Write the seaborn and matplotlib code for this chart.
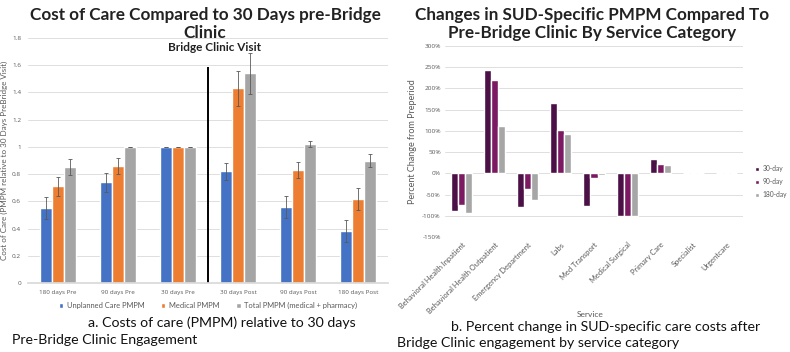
import numpy as np
import pandas as pd
import matplotlib
matplotlib.use("Agg")
import matplotlib.pyplot as plt
import seaborn as sns
from matplotlib.ticker import FuncFormatter

sns.set_theme(style="white")
plt.rcParams['font.family'] = ['Lato', 'DejaVu Sans']

# ---------------- data: left chart ----------------
periods = ["180 days Pre", "90 days Pre", "30 days Pre", "30 days Post", "90 days Post", "180 days Post"]
series_a = ["Unplanned Care PMPM", "Medical PMPM", "Total PMPM (medical + pharmacy)"]
unplanned = [0.55, 0.74, 1.00, 0.82, 0.56, 0.38]
medical = [0.71, 0.86, 1.00, 1.43, 0.83, 0.62]
total = [0.85, 1.00, 1.00, 1.54, 1.02, 0.90]
unplanned_err = [0.08, 0.07, 0.0, 0.06, 0.08, 0.08]
medical_err = [0.07, 0.06, 0.0, 0.13, 0.06, 0.08]
total_err = [0.06, 0.0, 0.0, 0.15, 0.02, 0.05]
a_ticks = [0, 0.2, 0.4, 0.6, 0.8, 1, 1.2, 1.4, 1.6, 1.8]

# ---------------- data: right chart ----------------
services = ["Behavioral Health Inpatient", "Behavioral Health Outpatient", "Emergency Department",
            "Labs", "Med Transport", "Medical Surgical", "Primary Care", "Specialist", "Urgentcare"]
series_b = ["30-day", "90-day", "180-day"]
d30 = [-88, 244, -80, 165, -77, -101, 34, 0, 0]
d90 = [-75, 220, -38, 103, -11, -101, 23, 0, 0]
d180 = [-94, 111, -63, 93, -4, -101, 19, 0, 0]
b_ticks = [-150, -100, -50, 0, 50, 100, 150, 200, 250, 300]

colors_a = ["#4472C4", "#ED7D31", "#A5A5A5"]
colors_b = ["#4B1046", "#7B1A63", "#A6A6A6"]

df_a = pd.DataFrame({
    "period": periods * 3,
    "series": sum([[s] * len(periods) for s in series_a], []),
    "value": unplanned + medical + total,
})
df_b = pd.DataFrame({
    "service": services * 3,
    "series": sum([[s] * len(services) for s in series_b], []),
    "value": d30 + d90 + d180,
})

W, H = 790, 352
fig = plt.figure(figsize=(W / 100, H / 100), dpi=100)
fig.patch.set_facecolor("white")

def box(x0, y0, x1, y1):
    return [x0 / W, 1 - y1 / H, (x1 - x0) / W, (y1 - y0) / H]

grid_c = "#D9D9D9"
tick_c = "#595959"
small_font = ["Open Sans", "DejaVu Sans"]

# ---------------- left chart ----------------
ax1 = fig.add_axes(box(28, 38, 388, 283))
sns.barplot(data=df_a, x="period", y="value", hue="series", order=periods, hue_order=series_a,
            palette=colors_a, width=0.6, saturation=1, errorbar=None, ax=ax1, legend=True)
errs = [unplanned_err, medical_err, total_err]
for cont, err in zip(ax1.containers, errs):
    xs = [p.get_x() + p.get_width() / 2 for p in cont.patches]
    ys = [p.get_height() for p in cont.patches]
    ax1.errorbar(xs, ys, yerr=err, fmt="none", ecolor="#595959", elinewidth=0.6, capsize=1.5, capthick=0.6)
ax1.set_ylim(0, 1.8)
ax1.set_yticks(a_ticks)
ax1.yaxis.set_major_formatter(FuncFormatter(lambda v, p: ("%g" % round(v, 1))))
ax1.yaxis.grid(True, color=grid_c, linewidth=0.6)
ax1.set_axisbelow(True)
for s in ax1.spines.values():
    s.set_visible(False)
ax1.spines["bottom"].set_visible(True)
ax1.spines["bottom"].set_color(grid_c)
ax1.tick_params(axis="y", length=0, labelsize=4.6, colors=tick_c, pad=5)
ax1.tick_params(axis="x", length=0, labelsize=4.5, colors=tick_c, pad=5)
for lab in ax1.get_yticklabels() + ax1.get_xticklabels():
    lab.set_fontfamily(small_font)
ax1.set_xlabel("")
ax1.set_ylabel("Cost of Care (PMPM relative to 30 Days PreBridge Visit)", fontsize=5.8, color=tick_c, labelpad=3)
ax1.set_xlim(-0.5, 5.5)
ax1.vlines(2.5, 0, 1.59, color="black", linewidth=1.4)
ax1.text(2.6, 1.73, "Bridge Clinic Visit", ha="center", va="center", fontsize=8.5, fontweight="bold", color="#222222")
leg = ax1.legend(loc="upper center", bbox_to_anchor=(0.5, -0.05), ncol=3, frameon=False, fontsize=5.4,
                 handlelength=0.6, handleheight=0.6, columnspacing=2.2, handletextpad=0.5)
for t in leg.get_texts():
    t.set_color(tick_c)

fig.text(205 / W, 1 - 24 / H, "Cost of Care Compared to 30 Days pre-Bridge\nClinic", ha="center", va="center",
         fontsize=12.3, fontweight="bold", color="#222222", linespacing=1.12)
fig.text(222 / W, 1 - 323 / H, "a. Costs of care (PMPM) relative to 30 days", ha="center", va="center",
         fontsize=10.2, color="#111111")
fig.text(12 / W, 1 - 340 / H, "Pre-Bridge Clinic Engagement", ha="left", va="center", fontsize=10.2, color="#111111")

# ---------------- right chart ----------------
ax2 = fig.add_axes(box(445, 46, 743, 237))
sns.barplot(data=df_b, x="service", y="value", hue="series", order=services, hue_order=series_b,
            palette=colors_b, width=0.64, saturation=1, errorbar=None, ax=ax2, legend=True)
ax2.set_ylim(-150, 300)
ax2.set_yticks(b_ticks)
ax2.yaxis.set_major_formatter(FuncFormatter(lambda v, p: "%d%%" % v))
ax2.yaxis.grid(True, color=grid_c, linewidth=0.6)
ax2.set_axisbelow(True)
for s in ax2.spines.values():
    s.set_visible(False)
ax2.tick_params(axis="both", length=0, labelsize=4.6, colors=tick_c, pad=3)
ax2.set_xticks(range(len(services)))
ax2.set_xticklabels(services, rotation=45, ha="right", rotation_mode="anchor", fontsize=5.4, color=tick_c)
for lab in ax2.get_yticklabels():
    lab.set_fontfamily(small_font)
ax2.set_xlabel("Service", fontsize=6, color=tick_c)
ax2.xaxis.set_label_coords(0.487, -0.39)
ax2.set_ylabel("Percent Change from Preperiod", fontsize=6.5, color=tick_c, labelpad=4)
ax2.set_xlim(-0.5, 8.5)
leg2 = ax2.legend(loc="center left", bbox_to_anchor=(1.02, 0.29), frameon=False, fontsize=4.8,
                  handlelength=0.6, handleheight=0.6, handletextpad=0.5, labelspacing=0.9)
for t in leg2.get_texts():
    t.set_color(tick_c)

fig.text(592 / W, 1 - 24 / H, "Changes in SUD-Specific PMPM Compared To\nPre-Bridge Clinic By Service Category",
         ha="center", va="center", fontsize=12.3, fontweight="bold", color="#222222", linespacing=1.12)
fig.text(606 / W, 1 - 327 / H, "b. Percent change in SUD-specific care costs after", ha="center", va="center",
         fontsize=10.2, color="#111111")
fig.text(397 / W, 1 - 343 / H, "Bridge Clinic engagement by service category", ha="left", va="center",
         fontsize=10.2, color="#111111")

fig.savefig("out.png", dpi=100, facecolor="white")
